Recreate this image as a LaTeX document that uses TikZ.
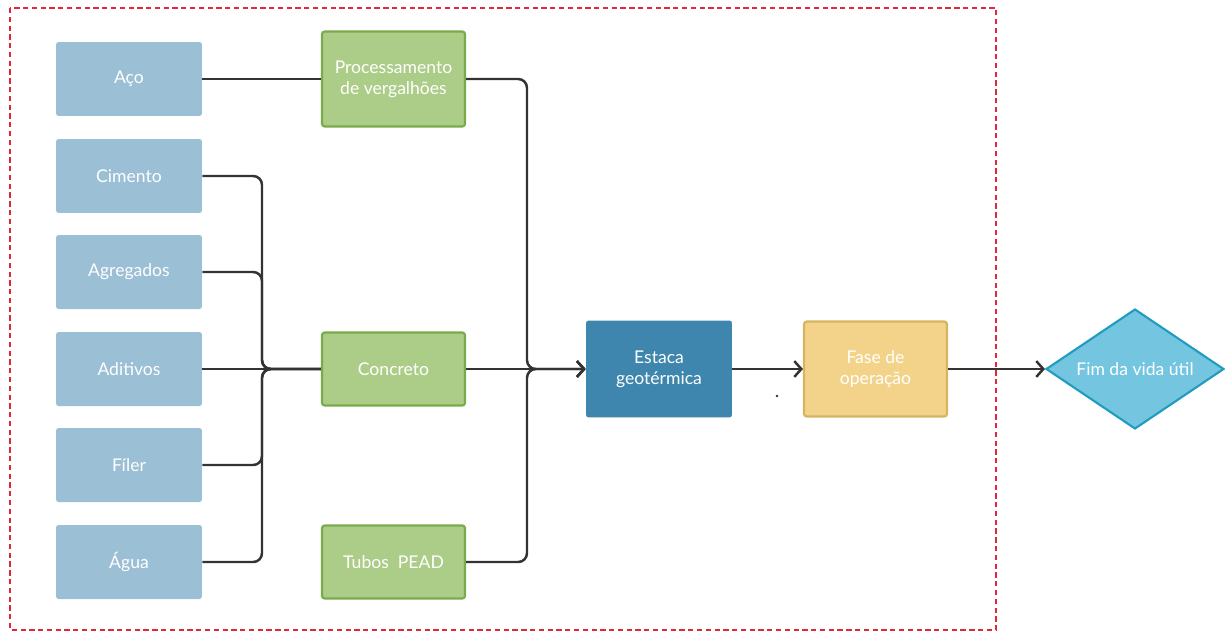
\documentclass[tikz,border=0pt]{standalone}
\usepackage{fontspec}
\setmainfont{Lato}
\usepackage{tikz}
\usetikzlibrary{arrows.meta, positioning, shapes.geometric}
\definecolor{matBlue}{HTML}{9BBFD4}
\definecolor{procGreen}{HTML}{ACCD87}
\definecolor{procBorder}{HTML}{7AAA4C}
\definecolor{pileBlue}{HTML}{3E86AD}
\definecolor{opYellow}{HTML}{F2D389}
\definecolor{opBorder}{HTML}{D6B462}
\definecolor{endCyan}{HTML}{74C5DF}
\definecolor{endBorder}{HTML}{1F9CC0}
\definecolor{frameRed}{HTML}{E0283C}
\definecolor{lineGray}{gray}{0.2}

\begin{document}
\begin{tikzpicture}[x=0.02cm, y=-0.02cm,
    box/.style={rectangle, rounded corners=1.5pt, text=white, align=center, font=\fontsize{10}{12}\selectfont, inner sep=2pt},
    material/.style={box, fill=matBlue, minimum width=2.92cm, minimum height=1.48cm},
    process/.style={box, fill=procGreen, draw=procBorder, line width=1.2pt, minimum width=2.86cm, minimum height=1.46cm},
    flow/.style={lineGray, line width=1.4pt, rounded corners=5pt},
    arrowflow/.style={flow, -{Straight Barb[length=4pt, width=9pt]}}]
    \useasboundingbox (0,0) rectangle (1225,633);

    % Frame
    \draw[frameRed, line width=0.9pt, dashed, dash pattern=on 3pt off 2pt] (10,8) rectangle (996,630);

    % Materials
    \node[material] (aco) at (129,79) {Aço};
    \node[material] (cim) at (129,176) {Cimento};
    \node[material] (agr) at (129,272) {Agregados};
    \node[material] (adi) at (129,369) {Aditivos};
    \node[material] (fil) at (129,465) {Fíler};
    \node[material] (agua) at (129,562) {Água};

    % Processes
    \node[process, minimum height=1.9cm] (proc) at (393.5,79) {Processamento\\de vergalhões};
    \node[process] (conc) at (393.5,369) {Concreto};
    \node[process] (tubos) at (393.5,562) {Tubos~ PEAD};

    \node[box, fill=pileBlue, minimum width=2.92cm, minimum height=1.94cm] (estaca) at (659,369) {Estaca\\geotérmica};
    \node[box, fill=opYellow, draw=opBorder, line width=1.2pt, minimum width=2.86cm, minimum height=1.9cm] (fase) at (875.5,369) {Fase de\\operação};
    \node[diamond, fill=endCyan, draw=endBorder, line width=1.2pt, text=white, aspect=1.5, inner sep=0pt,
        minimum width=3.56cm, minimum height=2.4cm, font=\fontsize{10}{12}\selectfont] (fim) at (1135,369) {Fim da vida útil};

    % Buses
    \coordinate (busL) at (262,369);
    \coordinate (busR) at (527,369);
    \coordinate (dot) at (777,396);

    % Connectors
    \draw[flow] (aco.east) -- (proc.west);
    \foreach \m in {cim, agr, fil, agua}
        \draw[flow] (\m.east) -| (busL) -- (conc.west);
    \draw[flow] (adi.east) -- (conc.west);
    \draw[arrowflow] (proc.east) -| (busR) -- (estaca.west);
    \draw[arrowflow] (tubos.east) -| (busR) -- (estaca.west);
    \draw[arrowflow] (conc.east) -- (estaca.west);
    \draw[arrowflow] (estaca.east) -- (fase.west);
    \draw[arrowflow] (fase.east) -- (fim.west);

    \fill[lineGray] (dot) circle (1.3);
\end{tikzpicture}
\end{document}
